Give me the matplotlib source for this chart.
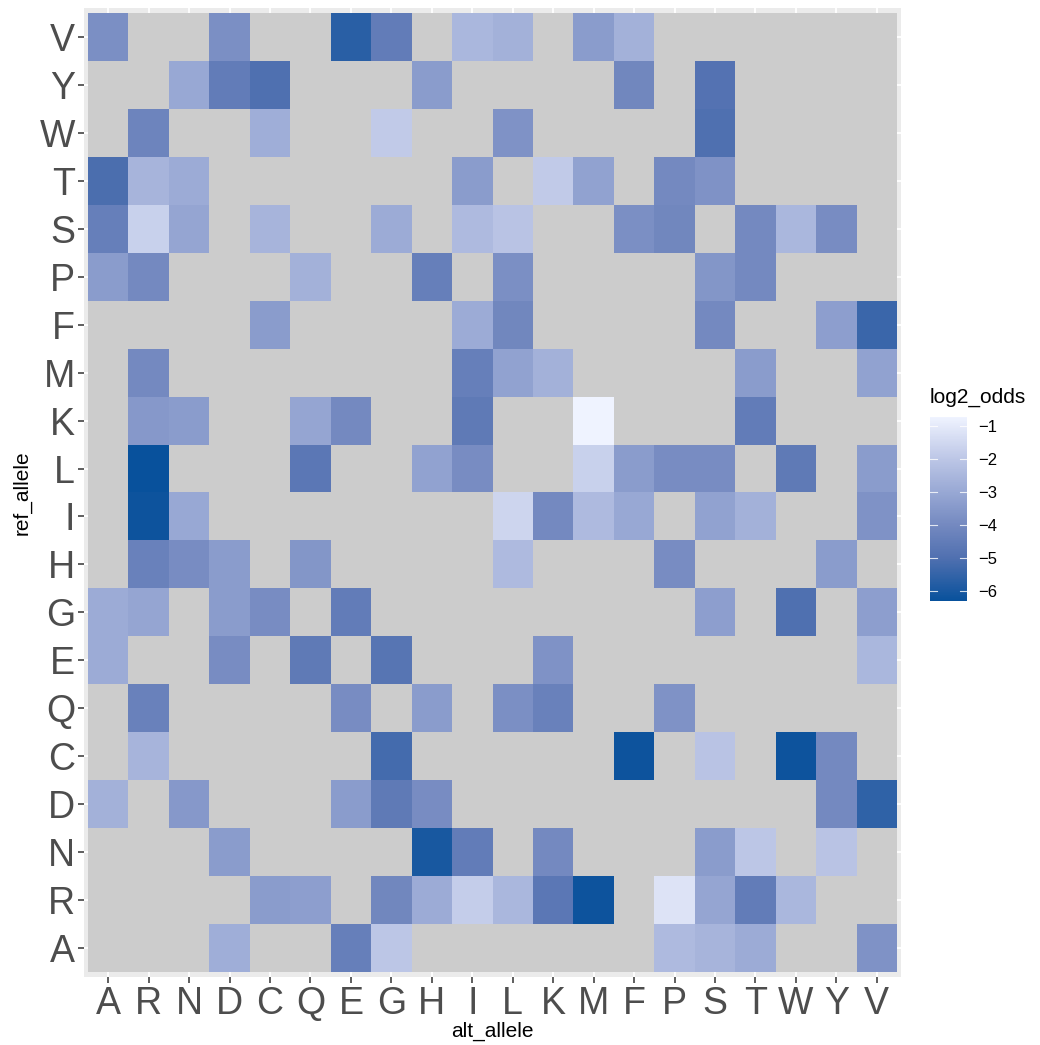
import numpy as np
import matplotlib
matplotlib.use("Agg")
import matplotlib.pyplot as plt
from matplotlib.colors import LinearSegmentedColormap, Normalize
from matplotlib.colorbar import ColorbarBase

plt.rcParams["font.family"] = ["Liberation Sans", "DejaVu Sans"]

N = np.nan

# amino acid order, same on both axes
alt_allele = ["A", "R", "N", "D", "C", "Q", "E", "G", "H", "I",
              "L", "K", "M", "F", "P", "S", "T", "W", "Y", "V"]
ref_allele = alt_allele

# log2 odds, one list per ref allele (columns follow alt_allele)
row_A = [N, N, N, -2.8, N, N, -4.4, -2.0, N, N, N, N, N, N, -2.4, -2.6, -2.9, N, N, -3.7]
row_R = [N, N, N, N, -3.4, -3.3, N, -4.1, -2.9, -1.8, -2.5, -4.7, -6.2, N, -1.2, -3.1, -4.5, -2.5, N, N]
row_N = [N, N, N, -3.4, N, N, N, N, -6.0, -4.5, N, -4.0, N, N, N, -3.4, -2.0, N, -2.1, N]
row_D = [-2.7, N, -3.5, N, N, N, -3.4, -4.6, -3.9, N, N, N, N, N, N, N, N, N, -4.0, -5.6]
row_C = [N, -2.6, N, N, N, N, N, -5.2, N, N, N, N, N, -6.2, N, -2.1, N, -6.2, -4.0, N]
row_Q = [N, -4.3, N, N, N, N, -3.9, N, -3.4, N, -3.8, -4.3, N, N, -3.7, N, N, N, N, N]
row_E = [-2.9, N, N, -3.9, N, -4.6, N, -4.8, N, N, N, -3.7, N, N, N, N, N, N, N, -2.5]
row_G = [-2.9, -3.1, N, -3.4, -3.9, N, -4.5, N, N, N, N, N, N, N, N, -3.3, N, -5.0, N, -3.3]
row_H = [N, -4.3, -3.9, -3.4, N, -3.6, N, N, N, N, -2.4, N, N, N, -3.9, N, N, N, -3.4, N]
row_I = [N, -6.2, -3.0, N, N, N, N, N, N, N, -1.6, -4.0, -2.4, -3.0, N, -3.2, -2.7, N, N, -3.7]
row_L = [N, -6.3, N, N, N, -4.7, N, N, -3.2, -3.9, N, N, -1.7, -3.4, -3.9, -3.9, N, -4.6, N, -3.4]
row_K = [N, -3.5, -3.4, N, N, -3.1, -4.0, N, N, -4.6, N, N, -0.75, N, N, N, -4.5, N, N, N]
row_M = [N, -4.0, N, N, N, N, N, N, N, -4.4, -3.2, -2.7, N, N, N, N, -3.4, N, N, -3.2]
row_F = [N, N, N, N, -3.4, N, N, N, N, -2.9, -4.1, N, N, N, N, -4.0, N, N, -3.3, -5.4]
row_P = [-3.4, -4.0, N, N, N, -2.7, N, N, -4.4, N, -3.8, N, N, N, N, -3.6, -4.0, N, N, N]
row_S = [-4.4, -1.7, -3.1, N, -2.6, N, N, -2.9, N, -2.4, -2.1, N, N, -3.8, -4.1, N, -4.0, -2.5, -3.9, N]
row_T = [-5.1, -2.6, -2.9, N, N, N, N, N, N, -3.4, N, -1.9, -3.2, N, -4.0, -3.7, N, N, N, N]
row_W = [N, -4.2, N, N, -2.8, N, N, -1.9, N, N, -3.7, N, N, N, N, -5.0, N, N, N, N]
row_Y = [N, N, -3.0, -4.5, -5.0, N, N, N, -3.4, N, N, N, N, -4.1, N, -4.9, N, N, N, N]
row_V = [-3.8, N, N, -3.8, N, N, -5.7, -4.5, N, -2.5, -2.7, N, -3.4, -2.7, N, N, N, N, N, N]

rows = [row_A, row_R, row_N, row_D, row_C, row_Q, row_E, row_G, row_H, row_I,
        row_L, row_K, row_M, row_F, row_P, row_S, row_T, row_W, row_Y, row_V]
Z = np.ma.masked_invalid(np.array(rows, dtype=float))

vmin, vmax = -6.3, -0.73
stops = [(-6.3, "#08519c"), (-5.0, "#5070b0"), (-4.0, "#7489c0"),
         (-3.0, "#98a8d4"), (-2.0, "#bcc6e6"), (-0.73, "#eff3ff")]
cmap = LinearSegmentedColormap.from_list(
    "blues", [((v - vmin) / (vmax - vmin), c) for v, c in stops])
cmap.set_bad("#cccccc")
norm = Normalize(vmin, vmax)

W, H = 1040, 1045
fig = plt.figure(figsize=(W / 100, H / 100), dpi=100)
ax = fig.add_axes([84 / W, 1 - 977 / H, (901 - 84) / W, (977 - 8) / H])
ax.set_facecolor("#ebebeb")

n = len(alt_allele)
edges = np.arange(n + 1) - 0.5
ax.pcolormesh(edges, edges, Z, cmap=cmap, norm=norm, zorder=2)
ax.set_xlim(-0.6, n - 0.4)
ax.set_ylim(-0.6, n - 0.4)

ax.set_xticks(range(n))
ax.set_xticklabels(alt_allele)
ax.set_yticks(range(n))
ax.set_yticklabels(ref_allele)
ax.grid(True, color="white", linewidth=1.3, zorder=0)
ax.set_axisbelow(True)
for s in ax.spines.values():
    s.set_visible(False)
ax.tick_params(length=4, width=1.1, color="#333333", labelcolor="#4d4d4d",
               labelsize=27, pad=2.5)

ax.set_xlabel("alt_allele", fontsize=15, color="black", labelpad=0)
ax.set_ylabel("ref_allele", fontsize=15, color="black", labelpad=6)

# colour bar legend
cax = fig.add_axes([930 / W, 1 - 601 / H, 37 / W, 184 / H])
cb = ColorbarBase(cax, cmap=cmap, norm=norm, ticks=[-1, -2, -3, -4, -5, -6])
cb.outline.set_visible(False)
cb.ax.set_yticklabels(["\u22121", "\u22122", "\u22123", "\u22124", "\u22125", "\u22126"])
cax.tick_params(length=0, labelsize=12, labelcolor="black", pad=8)
for t in [-1, -2, -3, -4, -5, -6]:
    cax.plot([0, 0.2], [t, t], color="white", lw=0.8, alpha=0.8, transform=cax.get_yaxis_transform())
    cax.plot([0.8, 1], [t, t], color="white", lw=0.8, alpha=0.8, transform=cax.get_yaxis_transform())
fig.text(930 / W, 1 - 397 / H, "log2_odds", fontsize=15, va="center", ha="left")

fig.savefig("out.png", dpi=100)
